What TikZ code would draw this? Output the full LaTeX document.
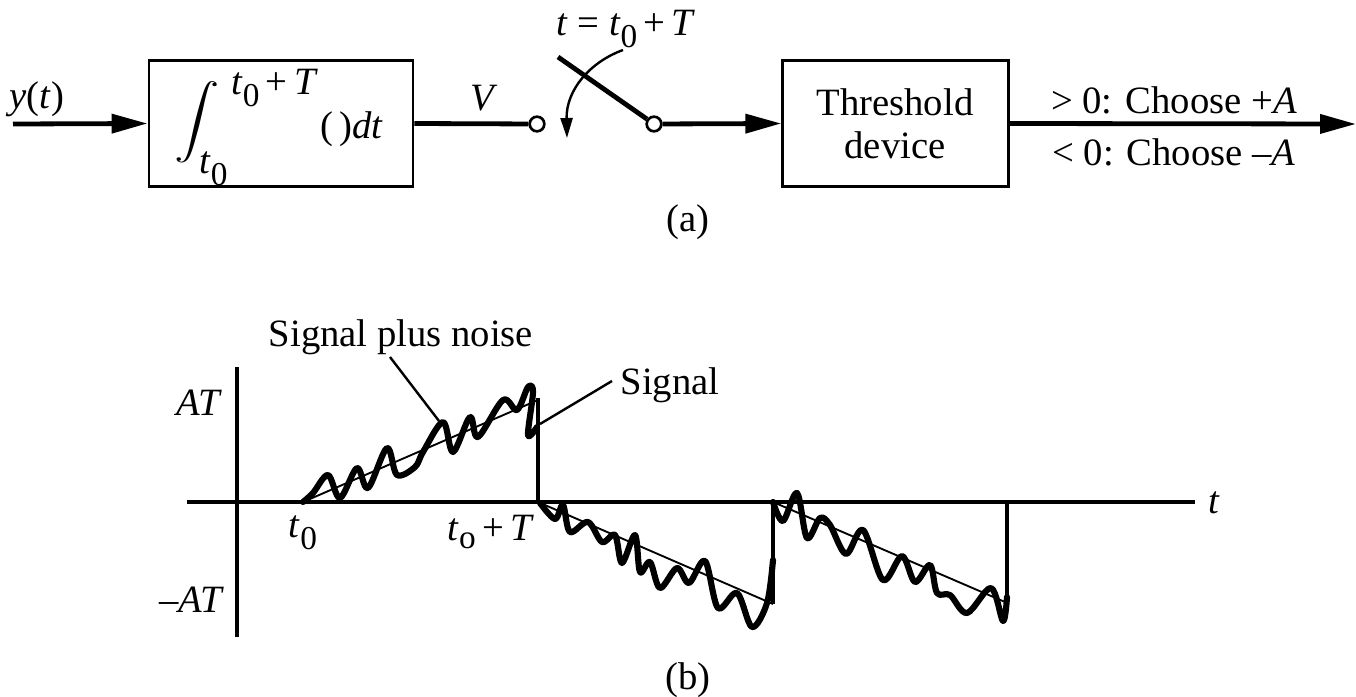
\documentclass[tikz,border=0pt]{standalone}
\usepackage{fontspec}
\setmainfont{Liberation Serif}
\usetikzlibrary{arrows.meta}
\newcommand{\itv}[1]{\textit{#1}}
\newcommand{\lowzero}{\raisebox{-0.3em}{\fontsize{25}{25}\selectfont 0}}
\newcommand{\lowo}{\raisebox{-0.22em}{\fontsize{25}{25}\selectfont o}}
\tikzset{
    blockbox/.style={draw, line width=2.2pt, minimum height=95pt, inner sep=0pt},
    contact/.style={circle, draw, fill=white, line width=2pt, minimum size=11pt, inner sep=0pt},
    label/.style={inner sep=0pt, font=\fontsize{29}{34}\selectfont},
    wire/.style={line width=3.6pt},
    wirearrow/.style={line width=3.6pt, -{Triangle[length=27pt,width=14pt]}},
    thinline/.style={line width=1.4pt},
    noisy/.style={line width=4.6pt, line join=round, line cap=round},
}
\begin{document}
\begin{tikzpicture}[x=0.75pt, y=-0.75pt]
    \useasboundingbox (0,0) rectangle (1356,696);
    % block diagram
    \coordinate (in) at (13,124);
    \coordinate (out) at (1356,124);
    \node[blockbox, minimum width=198pt] (integrator) at (281,123.5) {};
    \node[blockbox, minimum width=169pt] (threshold) at (895.5,123.5) {};
    \node[contact] (left) at (537,124) {};
    \node[contact] (right) at (654,124) {};
    \coordinate (blade) at (558,57);
    \coordinate (curvestart) at (623,50);
    \coordinate (curveend) at (567,138);
    \draw[wirearrow] (in) -- (integrator.west);
    \draw[wire] (integrator.east) -- (left);
    \draw[wirearrow] (right) -- (threshold.west);
    \draw[wirearrow] (threshold.east) -- (out);
    \draw[line width=3.6pt] (blade) -- (right);
    \draw[line width=1.8pt, -{Triangle[length=15pt,width=9pt]}] (curvestart) .. controls (590,62) and (566,90) .. (curveend);
    \node[label] (ylabel) at (37,99) {\itv{y}(\itv{t})};
    \node[inner sep=0pt, xscale=3.4, yscale=2.75] (integral) at (197,122) {$\displaystyle\int$};
    \node[label, anchor=west] (upper) at (231,88) {\itv{t}\lowzero\,+\,\itv{T}};
    \node[label, anchor=west] (lower) at (199,169) {\itv{t}\lowzero};
    \node[label, anchor=west] (dt) at (320,129) {(\,)\itv{dt}};
    \node[label] (vlabel) at (484,98) {\itv{V}};
    \node[label] (closing) at (626,29) {\itv{t} = \itv{t}\lowzero\,+\,\itv{T}};
    \node[label, align=center] (thtext) at (895,124) {Threshold\\[-2pt]device};
    \node[label] (pos) at (1174,100) {> 0: Choose +\itv{A}};
    \node[label] (neg) at (1174,152) {< 0: Choose –\itv{A}};
    \node[label] (parta) at (688,222) {(a)};
    % waveform
    \coordinate (xstart) at (187,502);
    \coordinate (xend) at (1195,502);
    \coordinate (ystart) at (237,367);
    \coordinate (yend) at (237,637);
    \draw[line width=2.8pt] (xstart) -- (xend);
    \draw[line width=2.8pt] (ystart) -- (yend);
    \node[label] (tlabel) at (1214,503) {\itv{t}};
    \node[label] (atpos) at (199,403) {\itv{AT}};
    \node[label] (atneg) at (192,600) {–\itv{AT}};
    \node[label] (tzero) at (303,533) {\itv{t}\lowzero};
    \node[label] (tzerot) at (491,532) {\itv{t}\lowo\,+\,\itv{T}};
    \draw[thinline] (303,502) -- (538,400);
    \draw[thinline] (538,502) -- (773,604);
    \draw[thinline] (773,502) -- (1005,602);
    \draw[line width=3.6pt] (538,398) -- (538,502);
    \draw[line width=3pt] (773,604) -- (773,502);
    \draw[line width=3pt] (1007,600) -- (1007,502);
    \draw[noisy] plot[smooth, tension=0.55] coordinates {(303,502) (313,493) (328,475) (340,498) (357,468) (368,488) (387,448) (397,475) (415,467) (423,452) (443,422) (453,452) (470,417) (478,437) (503,400) (517,410) (528,387) (533,392) (528,435) (537,427)};
    \draw[noisy] plot[smooth, tension=0.55] coordinates {(540,503) (555,519) (563,505) (570,532) (588,522) (602,542) (615,535) (622,563) (635,535) (640,572) (650,562) (660,588) (677,568) (689,583) (705,561) (718,608) (737,593) (752,627) (767,603) (773,560)};
    \draw[noisy] plot[smooth, tension=0.55] coordinates {(773,502) (783,521) (797,493) (807,538) (820,518) (830,525) (846,554) (863,530) (883,580) (902,556) (915,582) (930,565) (937,593) (950,595) (967,613) (991,588) (1003,621) (1007,597)};
    \node[label] (sumlabel) at (401,337) {Signal plus noise};
    \node[label] (siglabel) at (670,385) {Signal};
    \coordinate (sumend) at (439,421);
    \coordinate (sigend) at (540,424);
    \draw[line width=1.8pt] (390,357) -- (sumend);
    \draw[line width=1.8pt] (612,381) -- (sigend);
    \node[label] (partb) at (688,680) {(b)};
\end{tikzpicture}
\end{document}
